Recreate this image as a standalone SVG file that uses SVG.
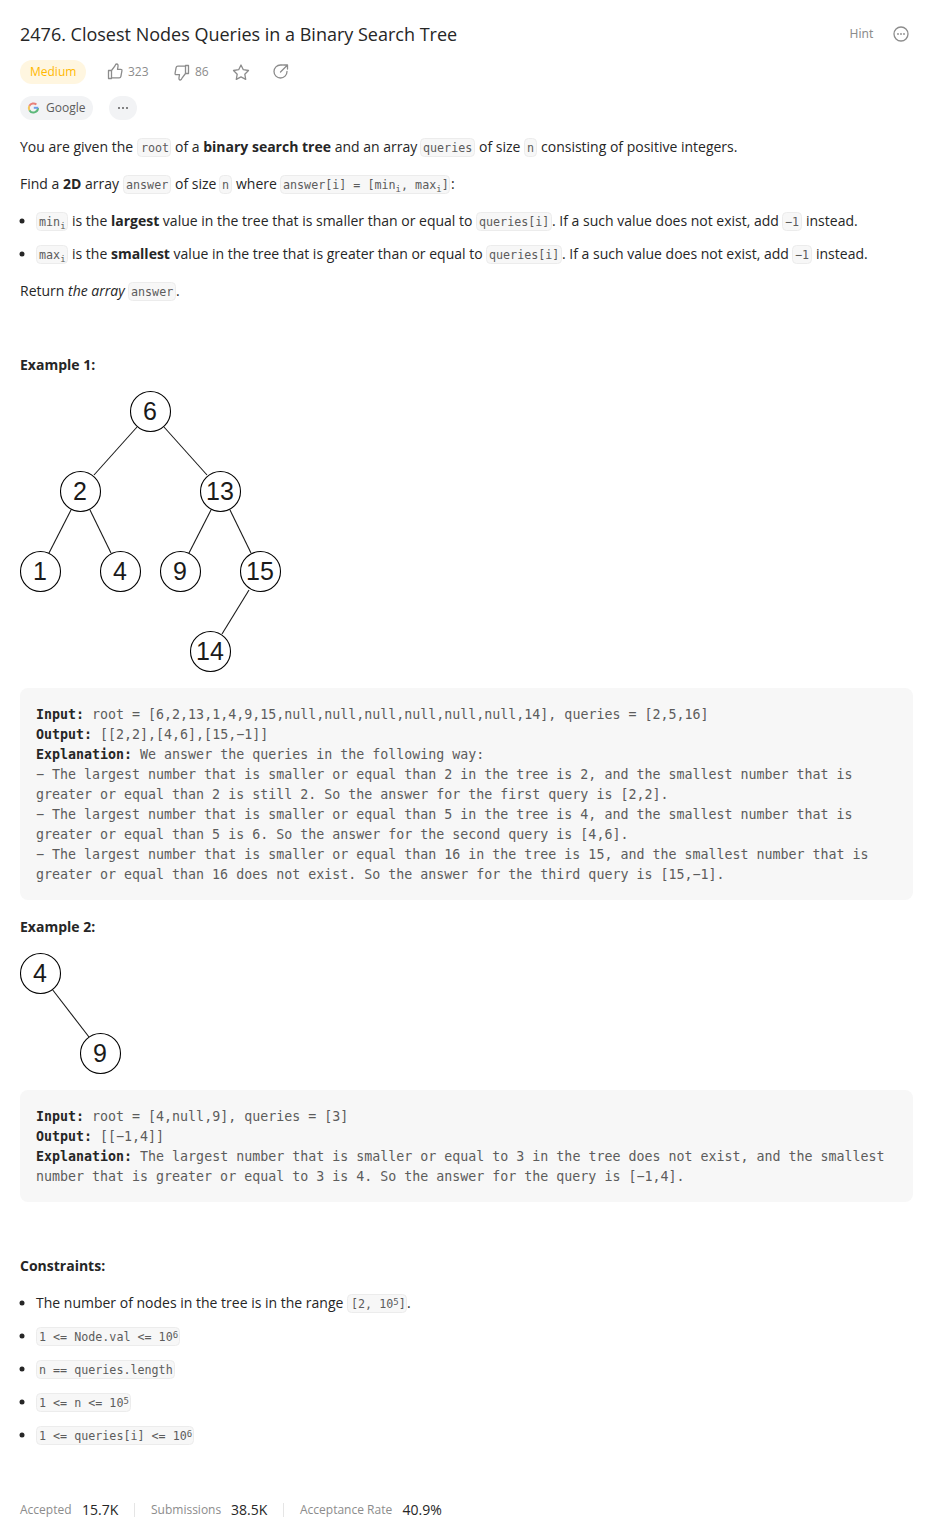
<svg xmlns="http://www.w3.org/2000/svg" width="933" height="1533" viewBox="0 0 933 1533">
<style>
text{font-family:"Open Sans","Noto Sans",sans-serif;font-size:14px;fill:#262626;white-space:pre}
.b{font-weight:700}
.i{font-style:italic}
.c{font-family:"DejaVu Sans Mono","Liberation Mono",monospace;font-size:11.7px;fill:#5c5c5c}
.p{font-family:"DejaVu Sans Mono","Liberation Mono",monospace;font-size:13.3px;font-weight:400;fill:#5c5c5c}
.pb{font-family:"DejaVu Sans Mono","Liberation Mono",monospace;font-size:13.3px;font-weight:700;fill:#262626}
.g{fill:#8c8c8c;font-size:12px}
.s{font-size:9px}
.cb{fill:#f7f7f7;stroke:#ececec;stroke-width:1}
.ic{fill:none;stroke:#8c8c8c;stroke-width:1.3;stroke-linejoin:round;stroke-linecap:round}
.n circle{fill:#fff;stroke:#000;stroke-width:1.1}
.n text{font-family:"Liberation Sans",Arial,sans-serif;font-size:25px;fill:#1a1a1a;text-anchor:middle}
.e line{stroke:#1a1a1a;stroke-width:1.1}
.dot{fill:#262626}
</style>
<rect width="933" height="1533" fill="#fff"/>
<g id="header">
<text x="20" y="41" style="font-size:18px">2476. Closest Nodes Queries in a Binary Search Tree</text>
<text x="849.500" y="38" style="font-size:12px;fill:#8c8c8c;font-family:'Noto Sans','Open Sans',sans-serif">Hint</text>
<circle cx="901" cy="34" r="7" class="ic"/>
<circle cx="898" cy="34" r=".9" fill="#8c8c8c"/><circle cx="901" cy="34" r=".9" fill="#8c8c8c"/><circle cx="904" cy="34" r=".9" fill="#8c8c8c"/>
<rect x="20" y="60" width="66" height="24" rx="12" fill="#fff6e0"/>
<text x="30" y="76" style="font-size:12px;fill:#ffb800">Medium</text>
<path class="ic" d="M108.500 70.500h3v8h-3zM111.500 70.500l3.500-4.700q.5-1.800 1.700-1.800q1.600 0 1.300 2.500l-.5 2.800h3.200q1.500 0 1.200 1.500l-1 5.500q-.3 1.500-1.700 1.500h-7.700"/>
<text x="128" y="76" class="g">323</text>
<path class="ic" d="M188.500 73.500h-3v-8h3zM185.500 73.500l-3.500 4.700q-.5 1.800-1.700 1.800q-1.600 0-1.300-2.500l.5-2.800h-3.200q-1.500 0-1.200-1.500l1-5.500q.3-1.500 1.700-1.500h7.700"/>
<text x="195" y="76" class="g">86</text>
<path class="ic" d="M241 65l2.300 4.700 5.200.8-3.700 3.700.9 5.200-4.700-2.500-4.700 2.500.9-5.200-3.700-3.700 5.200-.8z"/>
<path class="ic" d="M287 71.500a6.500 6.500 0 1 1-6.500-6.500h2M280.500 72l6.500-6.500M283.500 65h4v4"/>
<rect x="20" y="96" width="73" height="24" rx="12" fill="#f2f3f5"/>
<path d="M38 108a4.600 4.600 0 0 1-8.600 2.200" fill="none" stroke="#5cb87a" stroke-width="2"/>
<path d="M29.400 110.200a4.600 4.600 0 0 1 0-4.400" fill="none" stroke="#f2c55c" stroke-width="2"/>
<path d="M29.400 105.800a4.600 4.600 0 0 1 7-1.200" fill="none" stroke="#e88078" stroke-width="2"/>
<path d="M33.800 107.800h4.500" fill="none" stroke="#6d9eea" stroke-width="2"/>
<text x="46" y="112" style="font-size:12px;fill:#5c5c5c">Google</text>
<rect x="109" y="96" width="28" height="24" rx="12" fill="#f2f3f5"/>
<circle cx="119" cy="108" r="1" fill="#5c5c5c"/><circle cx="123" cy="108" r="1" fill="#5c5c5c"/><circle cx="127" cy="108" r="1" fill="#5c5c5c"/>
</g>
<g id="description">
<text x="20" y="152">You are given the</text>
<rect class="cb" x="137.500" y="138.500" width="33" height="18" rx="4"/><text class="c" x="141" y="152">root</text>
<text x="175" y="152">of a <tspan class="b">binary search tree</tspan> and an array</text>
<rect class="cb" x="420.500" y="138.500" width="54" height="18" rx="4"/><text class="c" x="423" y="152">queries</text>
<text x="479" y="152">of size</text>
<rect class="cb" x="524.500" y="138.500" width="12" height="18" rx="4"/><text class="c" x="527" y="152">n</text>
<text x="541" y="152">consisting of positive integers.</text>

<text x="20" y="189">Find a <tspan class="b">2D</tspan> array</text>
<rect class="cb" x="123.500" y="175.500" width="47" height="18" rx="4"/><text class="c" x="126" y="189">answer</text>
<text x="175" y="189">of size</text>
<rect class="cb" x="219.500" y="175.500" width="12" height="18" rx="4"/><text class="c" x="222" y="189">n</text>
<text x="236" y="189">where</text>
<rect class="cb" x="280.500" y="175.500" width="169" height="18" rx="4"/><text class="c" x="283" y="189">answer[i] = [min<tspan class="s" dy="2.500">i</tspan><tspan dy="-2.500">, max</tspan><tspan class="s" dy="2.500">i</tspan><tspan dy="-2.500">]</tspan></text>
<text x="451" y="189">:</text>

<circle class="dot" cx="22" cy="221" r="2.500"/>
<rect class="cb" x="36.500" y="212.500" width="31" height="18" rx="4"/><text class="c" x="39" y="226">min<tspan class="s" dy="2.500">i</tspan></text>
<text x="72" y="226">is the <tspan class="b">largest</tspan> value in the tree that is smaller than or equal to</text>
<rect class="cb" x="476.500" y="212.500" width="75" height="18" rx="4"/><text class="c" x="479" y="226">queries[i]</text>
<text x="552" y="226">. If a such value does not exist, add</text>
<rect class="cb" x="782.500" y="212.500" width="19" height="18" rx="4"/><text class="c" x="785" y="226">−1</text>
<text x="806" y="226">instead.</text>

<circle class="dot" cx="22" cy="254" r="2.500"/>
<rect class="cb" x="36.500" y="245.500" width="31" height="18" rx="4"/><text class="c" x="39" y="259">max<tspan class="s" dy="2.500">i</tspan></text>
<text x="72" y="259">is the <tspan class="b">smallest</tspan> value in the tree that is greater than or equal to</text>
<rect class="cb" x="486.500" y="245.500" width="75" height="18" rx="4"/><text class="c" x="489" y="259">queries[i]</text>
<text x="562" y="259">. If a such value does not exist, add</text>
<rect class="cb" x="792.500" y="245.500" width="19" height="18" rx="4"/><text class="c" x="795" y="259">−1</text>
<text x="816" y="259">instead.</text>

<text x="20" y="296">Return <tspan class="i">the array</tspan></text>
<rect class="cb" x="128.500" y="282.500" width="47" height="18" rx="4"/><text class="c" x="131" y="296">answer</text>
<text x="176" y="296">.</text>
<text class="b" x="20" y="370">Example 1:</text>
</g>
<g id="tree1">
<g class="e">
<line x1="137" y1="427" x2="94" y2="475"/>
<line x1="164" y1="427" x2="207" y2="475"/>
<line x1="71" y1="510" x2="49" y2="553"/>
<line x1="90" y1="510" x2="111" y2="553"/>
<line x1="211" y1="510" x2="189" y2="553"/>
<line x1="230" y1="510" x2="251" y2="553"/>
<line x1="249" y1="590" x2="222" y2="634"/>
</g>
<g class="n" id="n6"><circle cx="150.500" cy="411.500" r="20"/><text x="150" y="420">6</text></g>
<g class="n" id="n2"><circle cx="80.500" cy="491.500" r="20"/><text x="80" y="500">2</text></g>
<g class="n" id="n13"><circle cx="220.500" cy="491.500" r="20"/><text x="220" y="500">13</text></g>
<g class="n" id="n1"><circle cx="40.500" cy="571.500" r="20"/><text x="40" y="580">1</text></g>
<g class="n" id="n4"><circle cx="120.500" cy="571.500" r="20"/><text x="120" y="580">4</text></g>
<g class="n" id="n9"><circle cx="180.500" cy="571.500" r="20"/><text x="180" y="580">9</text></g>
<g class="n" id="n15"><circle cx="260.500" cy="571.500" r="20"/><text x="260" y="580">15</text></g>
<g class="n" id="n14"><circle cx="210.500" cy="651.500" r="20"/><text x="210" y="660">14</text></g>
</g>
<g id="example1">
<rect x="20" y="688" width="893" height="212" rx="8" fill="#f7f7f7"/>
<text class="pb" x="36" y="719">Input:<tspan class="p"> root = [6,2,13,1,4,9,15,null,null,null,null,null,null,14], queries = [2,5,16]</tspan></text>
<text class="pb" x="36" y="739">Output:<tspan class="p"> [[2,2],[4,6],[15,−1]]</tspan></text>
<text class="pb" x="36" y="759">Explanation:<tspan class="p"> We answer the queries in the following way:</tspan></text>
<text class="p" x="36" y="779">− The largest number that is smaller or equal than 2 in the tree is 2, and the smallest number that is</text>
<text class="p" x="36" y="799">greater or equal than 2 is still 2. So the answer for the first query is [2,2].</text>
<text class="p" x="36" y="819">− The largest number that is smaller or equal than 5 in the tree is 4, and the smallest number that is</text>
<text class="p" x="36" y="839">greater or equal than 5 is 6. So the answer for the second query is [4,6].</text>
<text class="p" x="36" y="859">− The largest number that is smaller or equal than 16 in the tree is 15, and the smallest number that is</text>
<text class="p" x="36" y="879">greater or equal than 16 does not exist. So the answer for the third query is [15,−1].</text>
<text class="b" x="20" y="932">Example 2:</text>
</g>
<g id="tree2">
<g class="e"><line x1="52" y1="989" x2="89" y2="1037"/></g>
<g class="n" id="m4"><circle cx="40.500" cy="973.500" r="20"/><text x="40" y="982">4</text></g>
<g class="n" id="m9"><circle cx="100.500" cy="1053.500" r="20"/><text x="100" y="1062">9</text></g>
</g>
<g id="example2">
<rect x="20" y="1090" width="893" height="112" rx="8" fill="#f7f7f7"/>
<text class="pb" x="36" y="1121">Input:<tspan class="p"> root = [4,null,9], queries = [3]</tspan></text>
<text class="pb" x="36" y="1141">Output:<tspan class="p"> [[−1,4]]</tspan></text>
<text class="pb" x="36" y="1161">Explanation:<tspan class="p"> The largest number that is smaller or equal to 3 in the tree does not exist, and the smallest</tspan></text>
<text class="p" x="36" y="1181">number that is greater or equal to 3 is 4. So the answer for the query is [−1,4].</text>
</g>
<g id="constraints">
<text class="b" x="20" y="1271">Constraints:</text>
<circle class="dot" cx="22" cy="1303" r="2.500"/>
<text x="36" y="1308">The number of nodes in the tree is in the range</text>
<rect class="cb" x="347.500" y="1294.500" width="59" height="18" rx="4"/><text class="c" x="351" y="1308">[2, 10<tspan class="s" dy="-3.500">5</tspan><tspan dy="3.500">]</tspan></text>
<text x="407" y="1308">.</text>
<circle class="dot" cx="22" cy="1336" r="2.500"/>
<rect class="cb" x="36.500" y="1327.500" width="143" height="18" rx="4"/><text class="c" x="39" y="1341">1 &lt;= Node.val &lt;= 10<tspan class="s" dy="-3.500">6</tspan></text>
<circle class="dot" cx="22" cy="1369" r="2.500"/>
<rect class="cb" x="36.500" y="1360.500" width="138" height="18" rx="4"/><text class="c" x="39" y="1374">n == queries.length</text>
<circle class="dot" cx="22" cy="1402" r="2.500"/>
<rect class="cb" x="36.500" y="1393.500" width="94" height="18" rx="4"/><text class="c" x="39" y="1407">1 &lt;= n &lt;= 10<tspan class="s" dy="-3.500">5</tspan></text>
<circle class="dot" cx="22" cy="1435" r="2.500"/>
<rect class="cb" x="36.500" y="1426.500" width="157" height="18" rx="4"/><text class="c" x="39" y="1440">1 &lt;= queries[i] &lt;= 10<tspan class="s" dy="-3.500">6</tspan></text>
</g>
<g id="stats">
<text class="g" x="20" y="1514">Accepted</text><text x="82" y="1515">15.7K</text>
<rect x="134" y="1503" width="1" height="14" fill="#e5e5e5"/>
<text class="g" x="151" y="1514">Submissions</text><text x="231" y="1515">38.5K</text>
<rect x="283" y="1503" width="1" height="14" fill="#e5e5e5"/>
<text class="g" x="300" y="1514">Acceptance Rate</text><text x="402.500" y="1515">40.9%</text>
</g>
</svg>
